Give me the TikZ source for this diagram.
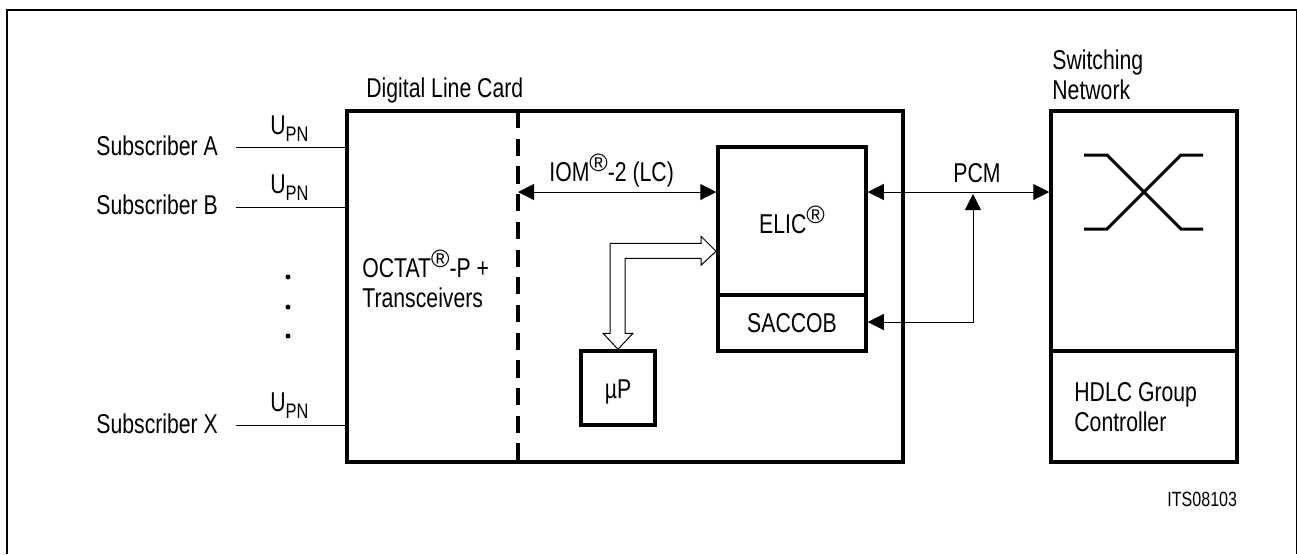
\documentclass[tikz,border=0pt]{standalone}
\usepackage{fontspec}
\setmainfont[FakeStretch=0.78]{Liberation Sans}
\newfontfamily\regfont{Liberation Sans}
\usepackage{tikz}
\usetikzlibrary{arrows.meta, calc}
\newcommand{\regmark}{\raisebox{5pt}{\regfont\fontsize{12.5}{12.5}\selectfont ®}}
\newcommand{\upn}{U\raisebox{-3.5pt}{\fontsize{10.5}{10.5}\selectfont PN}}
\tikzset{
  boxthick/.style={rectangle, draw=black, line width=1.75pt, inner sep=0pt,
                anchor=north west, align=center, xshift=-0.875pt, yshift=0.875pt,
                text depth=0pt, font=\fontsize{13.6}{15}\selectfont},
  textlabel/.style={inner sep=0pt, anchor=base west, align=left,
                font=\fontsize{13.6}{15}\selectfont},
  thinline/.style={draw=black, line width=0.5pt},
  biarrow/.style={{Triangle[length=8pt,width=8pt]}-{Triangle[length=8pt,width=8pt]}, thinline},
  hollowbus/.style={draw=black, line width=0.5pt, fill=white, line join=miter},
  dividerline/.style={draw=black, line width=2pt, dash pattern=on 8.6pt off 5.25pt},
  switchline/.style={draw=black, line width=1.5pt}
}

\begin{document}
\begin{tikzpicture}[x=0.5pt, y=-0.5pt]

  \useasboundingbox (0,0) rectangle (1297,554);

  %% ── Outer frame ───────────────────────────────────────────────────────
  \coordinate (framebl) at (7,554);
  \coordinate (framebr) at (1296.5,554);
  \draw[line width=1pt] (framebl) |- (framebr |- 0,10) -- (framebr);

  %% ── Line card ─────────────────────────────────────────────────────────
  \node[boxthick, minimum width=278pt, minimum height=175.5pt] (linecard) at (347,111) {};
  \node[textlabel] (cardlabel) at (366,97) {Digital Line Card};
  \node[textlabel] (octat) at (362,307) {OCTAT\regmark-P +\\Transceivers};

  \coordinate (divtop) at (518,111);
  \coordinate (divbot) at (518,462);
  \draw[dividerline] (divtop) -- (divbot);

  \node[boxthick, minimum width=74pt, minimum height=74pt, text height=12pt] (elic) at (718,147)
        {ELIC\regmark};
  \node[boxthick, minimum width=74pt, minimum height=28pt] (saccob) at (718,295)
        {SACCOB};
  \node[boxthick, minimum width=37pt, minimum height=37pt, text height=10pt] (mup) at (581,351)
        {µP};

  %% ── Switching network ─────────────────────────────────────────────────
  \node[boxthick, minimum width=93pt, minimum height=120pt] (network) at (1051,111) {};
  \node[boxthick, minimum width=93pt, minimum height=55.5pt] (hdlc) at (1051,351) {};
  \node[textlabel] (netlabel) at (1052,99) {Switching\\Network};
  \node[textlabel] (hdlclabel) at (1074,431) {HDLC Group\\Controller};
  \node[textlabel, font=\fontsize{10.3}{12}\selectfont] (itsref) at (1167,506) {ITS08103};

  \draw[switchline] (1084,155) -- (1107,155) -- (1181,229) -- (1203,229);
  \draw[switchline] (1084,229) -- (1107,229) -- (1181,155) -- (1203,155);

  %% ── Subscribers ───────────────────────────────────────────────────────
  \node[textlabel] (subA) at (96,155) {Subscriber A};
  \node[textlabel] (subB) at (96,214) {Subscriber B};
  \node[textlabel] (subX) at (96,433) {Subscriber X};

  \node[textlabel] (upnA) at (270,134) {\upn};
  \node[textlabel] (upnB) at (270,193) {\upn};
  \node[textlabel] (upnX) at (270,411) {\upn};

  \coordinate (stubA) at (236,147);
  \coordinate (stubB) at (236,207);
  \coordinate (stubX) at (236,425);
  \draw[thinline] (stubA) -- (stubA -| linecard.west);
  \draw[thinline] (stubB) -- (stubB -| linecard.west);
  \draw[thinline] (stubX) -- (stubX -| linecard.west);

  \foreach \doty in {277,307,336}
    \fill (288,\doty) circle (2.5);

  %% ── Arrows ────────────────────────────────────────────────────────────
  \coordinate (iomleft) at (518,192);
  \node[textlabel] (iomlabel) at (549,181) {IOM\regmark-2 (LC)};
  \draw[biarrow] (iomleft) -- (iomleft -| elic.west);

  \coordinate (pcmleft) at (elic.east |- iomleft);
  \coordinate (junction) at (973,322);
  \node[textlabel] (pcmlabel) at (953,182) {PCM};
  \draw[biarrow] (pcmleft) -- (pcmleft -| network.west);
  \draw[biarrow] (saccob.east |- junction) -| ($(pcmleft -| junction)+(0,2)$);

  %% Bus between processor and ELIC
  \draw[hollowbus] (mup.north) -- ++(-15,-16) -- ++(7,0) -- ++(0,-90) -- ++(91,0)
        -- ++(0,-7) -- ++(15,15) -- ++(-15,14) -- ++(0,-7) -- ++(-76,0)
        -- ++(0,75) -- ++(8,0) -- cycle;

\end{tikzpicture}
\end{document}
